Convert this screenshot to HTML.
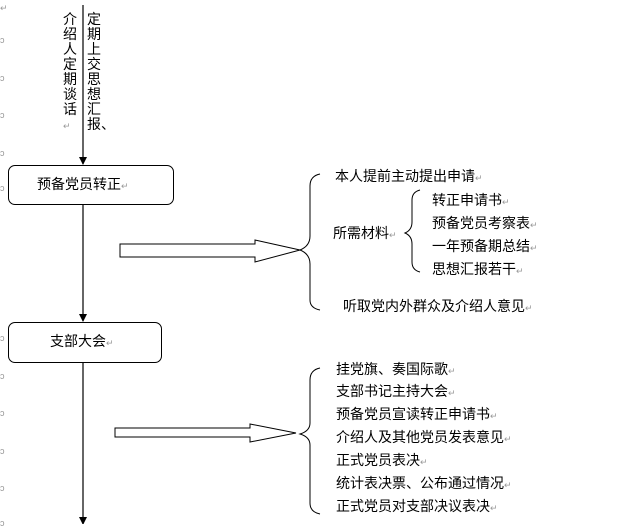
<!DOCTYPE html>
<html><head><meta charset="utf-8"><style>
body{margin:0;width:640px;height:524px;background:#fff;position:relative;overflow:hidden;font-family:"Liberation Sans","Noto Sans CJK SC","WenQuanYi Zen Hei",sans-serif;color:#000}
.t{position:absolute;font-size:14px;line-height:16px;white-space:nowrap}
.v{position:absolute;font-size:14px;line-height:15px;width:16px;word-break:break-all;white-space:normal}
.r{color:#999;font-size:9px}
.box{position:absolute;border:1px solid #000;border-radius:7px;background:#fff}
</style></head><body>
<svg width="640" height="524" style="position:absolute;left:0;top:0">
<defs><marker id="a" markerWidth="8" markerHeight="8" refX="7" refY="4" orient="auto" markerUnits="userSpaceOnUse"><path d="M0,0L8,4L0,8z" fill="#000"/></marker></defs>
<line x1="83" y1="5" x2="83" y2="164" stroke="#000" stroke-width="1.2" marker-end="url(#a)"/>
<line x1="83" y1="204" x2="83" y2="321" stroke="#000" stroke-width="1.2" marker-end="url(#a)"/>
<line x1="83" y1="361" x2="83" y2="524" stroke="#000" stroke-width="1.2" marker-end="url(#a)"/>
<path d="M120,244H255V240L300,250L255,262V257H120Z" fill="#fff" stroke="#000"/>
<path d="M115,428H250V424L296,433L250,442V437H115Z" fill="#fff" stroke="#000"/>
<path d="M320,174Q310,176 310,186V236Q310,246 300,250Q310,254 310,264V300Q310,308 320,310" fill="none" stroke="#000"/>
<path d="M420,190Q412,192 412,200V222Q412,230 405,233Q412,236 412,244V262Q412,270 420,272" fill="none" stroke="#000"/>
<path d="M320,368Q310,370 310,380V423Q310,431 300,434Q310,437 310,445V503Q310,512 320,514" fill="none" stroke="#000"/>
</svg>
<div class="box" style="left:8px;top:165px;width:164px;height:38px"></div>
<div class="box" style="left:8px;top:322px;width:152px;height:39px"></div>
<div class="t" style="left:37px;top:176px">预备党员转正<span class="r">↵</span></div>
<div class="t" style="left:50px;top:333px">支部大会<span class="r">↵</span></div>
<div class="v" style="left:87px;top:12px">定期上交思想汇报、</div>
<div class="v" style="left:63px;top:12px">介绍人定期谈话<span class="r">↵</span></div>
<div class="t" style="left:335px;top:168px">本人提前主动提出申请<span class="r">↵</span></div>
<div class="t" style="left:333px;top:225px">所需材料<span class="r">↵</span></div>
<div class="t" style="left:432px;top:192px">转正申请书<span class="r">↵</span></div>
<div class="t" style="left:432px;top:215px">预备党员考察表<span class="r">↵</span></div>
<div class="t" style="left:432px;top:238px">一年预备期总结<span class="r">↵</span></div>
<div class="t" style="left:432px;top:261px">思想汇报若干<span class="r">↵</span></div>
<div class="t" style="left:343px;top:298px">听取党内外群众及介绍人意见<span class="r">↵</span></div>
<div class="t" style="left:336px;top:361px">挂党旗、奏国际歌<span class="r">↵</span></div>
<div class="t" style="left:336px;top:383px">支部书记主持大会<span class="r">↵</span></div>
<div class="t" style="left:336px;top:406px">预备党员宣读转正申请书<span class="r">↵</span></div>
<div class="t" style="left:336px;top:429px">介绍人及其他党员发表意见<span class="r">↵</span></div>
<div class="t" style="left:336px;top:452px">正式党员表决<span class="r">↵</span></div>
<div class="t" style="left:336px;top:475px">统计表决票、公布通过情况<span class="r">↵</span></div>
<div class="t" style="left:336px;top:498px">正式党员对支部决议表决<span class="r">↵</span></div>
<div class="t r" style="left:0;top:0">↵</div>
<div class="t r" style="left:0;top:32px">ↄ</div>
<div class="t r" style="left:0;top:70px">ↄ</div>
<div class="t r" style="left:0;top:107px">ↄ</div>
<div class="t r" style="left:0;top:145px">ↄ</div>
<div class="t r" style="left:0;top:180px">ↄ</div>
<div class="t r" style="left:0;top:330px">ↄ</div>
<div class="t r" style="left:0;top:368px">ↄ</div>
<div class="t r" style="left:0;top:405px">ↄ</div>
<div class="t r" style="left:0;top:443px">ↄ</div>
<div class="t r" style="left:0;top:480px">ↄ</div>
<div class="t r" style="left:0;top:515px">ↄ</div>
</body></html>
